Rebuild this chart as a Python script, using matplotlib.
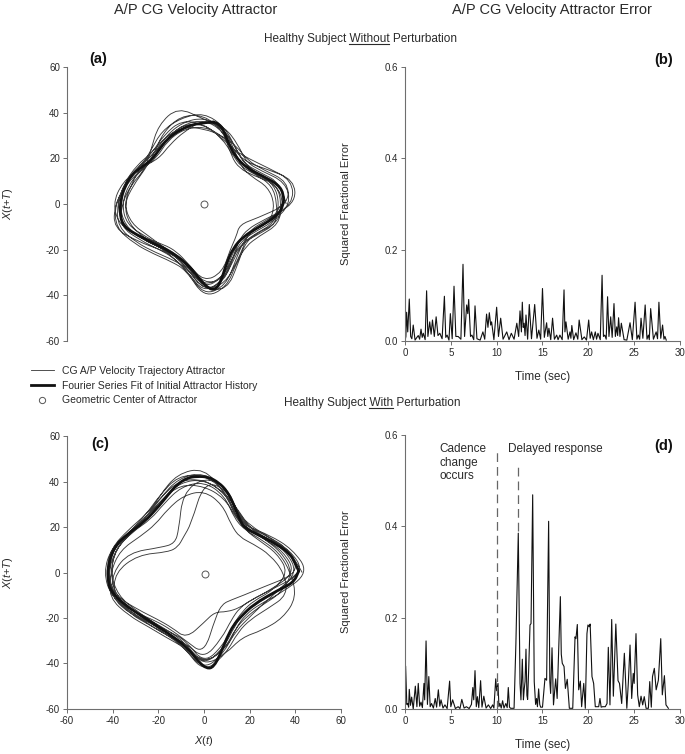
import numpy as np
import matplotlib
matplotlib.use('Agg')
import matplotlib.pyplot as plt
from matplotlib.lines import Line2D
from matplotlib.path import Path
from matplotlib.patches import PathPatch

plt.rcParams['font.family'] = ['Liberation Sans', 'DejaVu Sans']
plt.rcParams['mathtext.fontset'] = 'custom'
plt.rcParams['mathtext.rm'] = 'Liberation Sans'
plt.rcParams['mathtext.it'] = 'Liberation Sans:italic'
plt.rcParams['axes.unicode_minus'] = False

# ==============================================================================
# DATA
# ==============================================================================

# angles (deg) at which the trajectory radii were read
traj_angles = [0, 15, 30, 45, 60, 75, 90, 105, 120, 135, 150, 165,
               180, 195, 210, 225, 240, 255, 270, 285, 300, 315, 330, 345]

# (a) healthy subject without perturbation: radius per cycle
radii_without = [
    [36, 35, 28, 25, 28, 34, 38, 37, 34, 31, 33, 36, 38, 37, 31, 27, 26, 29, 38, 35, 26, 23, 25, 31],
    [38, 37, 29, 26, 30, 35, 37, 44, 40, 33, 30, 33, 36, 38, 32, 28, 27, 30, 39, 34, 27, 24, 27, 33],
    [32, 31, 26, 23, 25, 30, 35, 38, 35, 32, 33, 35, 39, 41, 33, 28, 26, 27, 35, 34, 26, 22, 22, 27],
    [40, 41, 31, 26, 27, 31, 34, 34, 32, 29, 31, 34, 36, 35, 29, 26, 25, 28, 37, 39, 30, 25, 26, 33],
    [35, 33, 25, 22, 24, 33, 39, 40, 36, 31, 30, 32, 35, 34, 30, 27, 27, 30, 40, 37, 28, 24, 24, 30],
    [31, 29, 24, 23, 27, 34, 37, 33, 30, 28, 32, 37, 40, 38, 30, 25, 24, 27, 34, 31, 23, 20, 18, 24],
    [37, 38, 30, 27, 29, 31, 33, 35, 34, 32, 34, 36, 38, 39, 34, 30, 28, 29, 36, 33, 26, 24, 26, 32],
    [33, 32, 27, 25, 28, 35, 40, 39, 37, 33, 32, 33, 35, 33, 28, 26, 26, 29, 38, 36, 29, 25, 23, 28],
    [39, 40, 32, 28, 27, 30, 35, 36, 33, 30, 31, 35, 39, 40, 35, 31, 29, 30, 41, 38, 29, 26, 28, 34],
    [34, 33, 26, 24, 26, 33, 37, 36, 33, 31, 33, 36, 37, 36, 31, 27, 26, 28, 37, 33, 25, 22, 24, 30],
]

# (c) healthy subject with perturbation: radius per cycle
radii_with = [
    [43, 39, 32, 29, 30, 38, 44, 43, 38, 35, 37, 41, 43, 42, 36, 32, 32, 34, 43, 36, 28, 26, 28, 35],
    [46, 40, 33, 28, 28, 36, 46, 45, 39, 35, 36, 40, 41, 40, 35, 32, 31, 33, 41, 37, 33, 36, 40, 42],
    [38, 34, 29, 26, 27, 35, 40, 39, 35, 33, 36, 40, 42, 41, 36, 33, 32, 32, 38, 30, 24, 22, 24, 30],
    [40, 36, 30, 27, 30, 39, 42, 36, 22, 18, 22, 34, 40, 42, 37, 32, 30, 31, 40, 33, 26, 24, 25, 31],
    [37, 33, 28, 26, 28, 34, 38, 40, 37, 35, 37, 42, 44, 42, 35, 30, 29, 31, 36, 20, 16, 17, 20, 26],
    [42, 38, 32, 28, 30, 38, 40, 22, 18, 16, 18, 30, 39, 41, 37, 33, 32, 33, 40, 35, 28, 27, 29, 35],
    [39, 35, 30, 28, 31, 36, 41, 42, 38, 36, 38, 42, 43, 40, 33, 29, 28, 30, 22, 18, 20, 22, 24, 30],
    [44, 39, 31, 27, 28, 37, 43, 44, 39, 36, 37, 40, 41, 39, 34, 31, 31, 34, 44, 37, 30, 29, 32, 38],
    [35, 30, 25, 22, 24, 31, 36, 35, 32, 30, 32, 38, 41, 43, 38, 34, 33, 34, 40, 35, 29, 28, 29, 33],
    [41, 37, 31, 28, 29, 36, 41, 41, 37, 35, 37, 41, 42, 41, 35, 31, 30, 32, 41, 34, 27, 25, 27, 33],
]

# Fourier series fit of initial attractor history
fit_without_x = [4.1, -3.2, -10.5, -16.4, -19.6, -22.9, -27.3, -31.7, -34.6, -36.5, -36.8, -35.0,
                 -30.9, -23.6, -14.9, -7.6, -1.8, 2.6, 5.5, 7.7, 9.9, 12.8, 17.2, 24.5,
                 31.8, 34.7, 35.0, 32.6, 26.0, 18.7, 13.6, 10.7, 8.5, 6.3, 4.1]
fit_without_y = [35.9, 35.5, 32.6, 28.2, 23.8, 19.4, 16.2, 12.8, 7.7, 1.9, -5.4, -9.8,
                 -12.7, -16.4, -20.7, -25.8, -33.1, -37.5, -37.2, -33.1, -25.8, -19.3, -14.2, -9.8,
                 -5.4, -1.0, 4.1, 8.5, 12.1, 15.8, 20.9, 26.7, 32.6, 35.2, 35.9]

fit_with_x = [41.5, 39.5, 37.8, 32.0, 23.2, 18.0, 15.9, 13.0, 10.1, 6.5, 2.0, -3.1,
              -7.4, -11.8, -15.5, -19.1, -26.4, -33.7, -39.6, -42.2, -42.0, -41.0, -35.2, -26.4,
              -16.2, -7.4, -2.3, 1.3, 4.2, 7.2, 10.1, 13.0, 15.9, 21.8, 32.0, 39.3, 41.5]
fit_with_y = [0.7, 5.0, 8.0, 12.4, 16.8, 19.5, 22.6, 29.9, 35.8, 39.5, 42.0, 42.3,
              41.6, 38.7, 34.5, 29.9, 21.9, 16.8, 10.9, 2.2, -3.5, -8.0, -13.9, -19.7,
              -26.3, -32.8, -39.4, -42.3, -41.6, -35.8, -28.5, -23.0, -19.7, -13.9, -8.0, -4.4, 0.7]

center_without = (0.1, 0.0)
center_with = (0.6, -0.7)

# (b) squared fractional error, without perturbation
err_without_t = [0.0, 0.1, 0.18, 0.3, 0.47, 0.62, 0.75, 0.9, 1.1, 1.3,
                 1.45, 1.6, 1.75, 1.88, 2.0, 2.2, 2.36, 2.5, 2.7, 2.85,
                 3.0, 3.2, 3.4, 3.6, 3.8, 4.05, 4.3, 4.45, 4.6, 4.8,
                 4.95, 5.15, 5.35, 5.55, 5.8, 6.1, 6.33, 6.5, 6.73, 6.85,
                 6.95, 7.15, 7.3, 7.5, 7.64, 7.85, 8.2, 8.5, 8.7, 8.9,
                 9.05, 9.2, 9.35, 9.45, 9.7, 10.0, 10.2, 10.44, 10.7, 10.9,
                 11.1, 11.35, 11.6, 11.9, 12.2, 12.4, 12.55, 12.7, 12.8, 12.9,
                 13.0, 13.1, 13.2, 13.38, 13.56, 13.8, 14.15, 14.4, 14.6, 14.8,
                 15.0, 15.2, 15.45, 15.58, 15.7, 15.9, 16.1, 16.3, 16.55, 16.7,
                 16.9, 17.15, 17.35, 17.45, 17.56, 17.8, 18.0, 18.1, 18.2, 18.4,
                 18.65, 18.85, 19.0, 19.3, 19.56, 19.8, 20.04, 20.2, 20.36, 20.55,
                 20.76, 20.9, 21.05, 21.3, 21.5, 21.65, 21.8, 21.95, 22.1, 22.25,
                 22.44, 22.6, 22.8, 22.95, 23.1, 23.2, 23.3, 23.45, 23.6, 23.9,
                 24.2, 24.55, 24.8, 25.1, 25.3, 25.45, 25.6, 25.75, 25.95, 26.2,
                 26.4, 26.55, 26.65, 26.8, 27.1, 27.4, 27.55, 27.7, 27.9, 28.1,
                 28.25, 28.36, 28.5]
err_without = [0.0, 0.01, 0.063, 0.02, 0.092, 0.01, 0.005, 0.035, 0.002, 0.008,
               0.012, 0.004, 0.026, 0.008, 0.017, 0.003, 0.11, 0.01, 0.042, 0.015,
               0.046, 0.01, 0.053, 0.012, 0.017, 0.005, 0.098, 0.008, 0.013, 0.002,
               0.06, 0.005, 0.12, 0.01, 0.01, 0.004, 0.168, 0.01, 0.079, 0.06,
               0.091, 0.01, 0.013, 0.003, 0.077, 0.005, 0.002, 0.02, 0.004, 0.059,
               0.03, 0.062, 0.035, 0.042, 0.003, 0.074, 0.01, 0.05, 0.004, 0.012,
               0.02, 0.003, 0.017, 0.004, 0.039, 0.01, 0.066, 0.02, 0.085, 0.03,
               0.039, 0.012, 0.057, 0.004, 0.08, 0.005, 0.08, 0.006, 0.024, 0.004,
               0.115, 0.008, 0.04, 0.01, 0.028, 0.003, 0.05, 0.004, 0.013, 0.003,
               0.013, 0.003, 0.112, 0.02, 0.042, 0.004, 0.02, 0.006, 0.034, 0.003,
               0.018, 0.004, 0.046, 0.003, 0.009, 0.002, 0.046, 0.006, 0.02, 0.003,
               0.02, 0.004, 0.017, 0.003, 0.144, 0.01, 0.013, 0.004, 0.097, 0.01,
               0.053, 0.008, 0.082, 0.01, 0.031, 0.012, 0.051, 0.01, 0.039, 0.003,
               0.002, 0.04, 0.003, 0.085, 0.004, 0.013, 0.004, 0.05, 0.006, 0.079,
               0.004, 0.013, 0.003, 0.071, 0.004, 0.02, 0.005, 0.085, 0.006, 0.035,
               0.004, 0.01, 0.002]

# (d) squared fractional error, with perturbation
err_with_t = [0.0, 0.07, 0.2, 0.3, 0.4, 0.47, 0.6, 0.73, 0.9, 1.13,
              1.3, 1.45, 1.6, 1.75, 1.9, 2.07, 2.15, 2.3, 2.45, 2.6,
              2.75, 2.9, 3.1, 3.3, 3.45, 3.64, 3.8, 3.93, 4.15, 4.36,
              4.6, 4.87, 5.0, 5.2, 5.5, 5.8, 6.0, 6.2, 6.45, 6.7,
              7.0, 7.25, 7.4, 7.5, 7.64, 7.78, 7.9, 8.05, 8.25, 8.4,
              8.6, 8.85, 9.1, 9.35, 9.56, 9.7, 9.9, 10.0, 10.15, 10.25,
              10.36, 10.5, 10.65, 10.8, 11.0, 11.15, 11.27, 11.4, 11.53, 11.9,
              12.1, 12.36, 12.55, 12.65, 12.8, 12.92, 13.0, 13.1, 13.2, 13.3,
              13.38, 13.5, 13.64, 13.75, 13.93, 14.1, 14.15, 14.25, 14.36, 14.45,
              14.58, 14.7, 14.8, 15.0, 15.27, 15.45, 15.67, 15.8, 15.89, 16.04,
              16.2, 16.44, 16.6, 16.95, 17.05, 17.16, 17.35, 17.5, 17.7, 17.93,
              18.3, 18.55, 18.65, 18.8, 18.95, 19.13, 19.27, 19.5, 19.67, 19.85,
              19.96, 20.1, 20.2, 20.4, 20.58, 20.76, 21.13, 21.27, 21.4, 21.56,
              21.85, 22.04, 22.18, 22.36, 22.55, 22.73, 23.0, 23.24, 23.4, 23.64,
              23.93, 24.2, 24.36, 24.55, 24.73, 24.9, 25.0, 25.2, 25.38, 25.56,
              25.75, 25.93, 26.1, 26.3, 26.55, 26.7, 26.87, 27.0, 27.2, 27.4,
              27.64, 27.9, 28.07, 28.3, 28.47, 28.73]
err_with = [0.0, 0.094, 0.01, 0.012, 0.004, 0.043, 0.008, 0.026, 0.0, 0.05,
            0.005, 0.056, 0.006, 0.015, 0.003, 0.056, 0.02, 0.149, 0.01, 0.071,
            0.005, 0.012, 0.002, 0.023, 0.004, 0.042, 0.006, 0.02, 0.002, 0.009,
            0.001, 0.061, 0.005, 0.02, 0.001, 0.005, 0.001, 0.021, 0.002, 0.005,
            0.001, 0.01, 0.047, 0.02, 0.084, 0.005, 0.027, 0.003, 0.062, 0.004,
            0.028, 0.002, 0.009, 0.001, 0.009, 0.002, 0.066, 0.04, 0.056, 0.005,
            0.012, 0.002, 0.018, 0.002, 0.012, 0.003, 0.047, 0.004, 0.0015, 0.0015,
            0.144, 0.385, 0.056, 0.02, 0.109, 0.02, 0.042, 0.06, 0.131, 0.03,
            0.021, 0.09, 0.184, 0.187, 0.469, 0.06, 0.042, 0.01, 0.023, 0.005,
            0.044, 0.01, 0.004, 0.004, 0.067, 0.063, 0.411, 0.06, 0.034, 0.134,
            0.009, 0.066, 0.023, 0.246, 0.12, 0.1, 0.093, 0.045, 0.065, 0.0015,
            0.0015, 0.158, 0.154, 0.185, 0.042, 0.061, 0.005, 0.056, 0.0015, 0.165,
            0.184, 0.18, 0.186, 0.071, 0.056, 0.005, 0.005, 0.023, 0.004, 0.005,
            0.005, 0.012, 0.135, 0.009, 0.196, 0.028, 0.186, 0.062, 0.056, 0.012,
            0.122, 0.0015, 0.056, 0.14, 0.023, 0.078, 0.056, 0.165, 0.031, 0.005,
            0.028, 0.009, 0.027, 0.0015, 0.0015, 0.06, 0.004, 0.071, 0.089, 0.042,
            0.063, 0.154, 0.031, 0.073, 0.009, 0.0015]

cadence_change_t = 10.0
delayed_response_t = 12.3

# ==============================================================================
# HELPERS
# ==============================================================================

AX_COLOR = '#6e6e6e'
TXT_COLOR = '#2a2a2a'


def cycles_to_xy(radii_cycles, angles_deg):
    '''
    joins the cycles read at fixed angles into one continuous trajectory
    '''
    theta = np.deg2rad(np.array(angles_deg, dtype=float))
    xs, ys = [], []
    for r in radii_cycles:
        r = np.asarray(r, dtype=float)
        xs.append(r * np.cos(theta))
        ys.append(r * np.sin(theta))
    # close the last cycle
    xs.append([radii_cycles[-1][0]])
    ys.append([0.0])
    return np.concatenate(xs), np.concatenate(ys)


def smooth_path(x, y):
    '''
    quadratic bezier path through the read points (rounded corners)
    '''
    pts = np.column_stack([x, y])
    verts = [pts[0]]
    codes = [Path.MOVETO]
    for i in range(1, len(pts) - 1):
        verts += [pts[i], (pts[i] + pts[i + 1]) / 2]
        codes += [Path.CURVE3, Path.CURVE3]
    verts.append(pts[-1])
    codes.append(Path.LINETO)
    return Path(verts, codes)


def style_axis(ax, show_x=True):
    for side in ['top', 'right']:
        ax.spines[side].set_visible(False)
    for side in ['left', 'bottom']:
        ax.spines[side].set_color(AX_COLOR)
        ax.spines[side].set_linewidth(0.8)
    ax.tick_params(direction='out', length=3, width=0.7, color=AX_COLOR,
                   labelsize=7, labelcolor=TXT_COLOR, pad=2)
    if not show_x:
        ax.spines['bottom'].set_visible(False)
        ax.tick_params(bottom=False, labelbottom=False)


def plot_attractor(ax, radii_cycles, fit_x, fit_y, center, show_x):
    x, y = cycles_to_xy(radii_cycles, traj_angles)
    ax.add_patch(PathPatch(smooth_path(x, y), fill=False, edgecolor='#3a3a3a', linewidth=0.65))
    ax.add_patch(PathPatch(smooth_path(fit_x, fit_y), fill=False, edgecolor='#111111',
                           linewidth=2.0, capstyle='round', joinstyle='round'))
    ax.plot(*center, marker='o', markersize=5, mfc='white', mec='#555555', mew=0.7)
    ax.set_xlim(-60, 60)
    ax.set_ylim(-60, 60)
    ax.set_xticks(np.arange(-60, 61, 20))
    ax.set_yticks(np.arange(-60, 61, 20))
    style_axis(ax, show_x)
    ax.set_ylabel(r'$X$($t$+$T$)', fontsize=8, color=TXT_COLOR)
    ax.yaxis.set_label_coords(-0.19, 0.5)
    if show_x:
        ax.set_xlabel(r'$X$($t$)', fontsize=8, color=TXT_COLOR)
        ax.xaxis.set_label_coords(0.5, -0.092)


def plot_error(ax, t, err):
    ax.plot(t, err, color='#111111', linewidth=0.8)
    ax.set_xlim(0, 30)
    ax.set_ylim(0, 0.6)
    ax.set_xticks(np.arange(0, 31, 5))
    ax.set_yticks([0.0, 0.2, 0.4, 0.6])
    ax.set_yticklabels(['0.0', '0.2', '0.4', '0.6'])
    style_axis(ax)
    ax.set_ylabel('Squared Fractional Error', fontsize=8, color=TXT_COLOR)
    ax.yaxis.set_label_coords(-0.198, 0.5)
    ax.set_xlabel('Time (sec)', fontsize=8.5, color=TXT_COLOR)
    ax.xaxis.set_label_coords(0.5, -0.108)


def underlined_title(fig, x, y, before, word, after, size):
    '''
    figure text with one underlined word (mathtext has no \\underline)
    '''
    full = fig.text(x, y, before + word + after, fontsize=size, ha='center',
                    va='center', color=TXT_COLOR)
    renderer = fig.canvas.get_renderer()
    bb = full.get_window_extent(renderer)
    probe = fig.text(0, 0, before, fontsize=size)
    w_before = probe.get_window_extent(renderer).width
    probe.set_text(before + word)
    w_word = probe.get_window_extent(renderer).width
    probe.remove()
    W, H = fig.bbox.width, fig.bbox.height
    x0 = (bb.x0 + w_before) / W
    x1 = (bb.x0 + w_word) / W
    yl = (bb.y0 + 1) / H
    fig.add_artist(Line2D([x0, x1], [yl, yl], transform=fig.transFigure,
                          color=TXT_COLOR, linewidth=0.8))

# ==============================================================================
# FIGURE
# ==============================================================================

fig = plt.figure(figsize=(6.85, 7.54), dpi=100)

ax_a = fig.add_axes([0.0978, 0.5477, 0.4, 0.3634])
ax_b = fig.add_axes([0.5912, 0.5477, 0.4015, 0.3634])
ax_c = fig.add_axes([0.0978, 0.0597, 0.4, 0.3620])
ax_d = fig.add_axes([0.5912, 0.0597, 0.4015, 0.3634])

plot_attractor(ax_a, radii_without, fit_without_x, fit_without_y, center_without, show_x=False)
plot_attractor(ax_c, radii_with, fit_with_x, fit_with_y, center_with, show_x=True)
plot_error(ax_b, err_without_t, err_without)
plot_error(ax_d, err_with_t, err_with)

# event markers in (d)
ax_d.plot([cadence_change_t, cadence_change_t], [0, 0.567], color='#666666',
          linewidth=0.9, linestyle=(0, (7, 4)))
ax_d.plot([delayed_response_t, delayed_response_t], [0.39, 0.539], color='#666666',
          linewidth=0.9, linestyle=(0, (7, 4)))
ax_d.text(3.8, 0.539, 'Cadence\nchange\noccurs', fontsize=8.5, color=TXT_COLOR,
          va='center', ha='left', linespacing=1.15)
ax_d.text(11.2, 0.569, 'Delayed response', fontsize=8.5, color=TXT_COLOR,
          va='center', ha='left')

# column titles, row titles, panel letters
fig.text(196 / 685, 1 - 10 / 754, 'A/P CG Velocity Attractor', fontsize=10.5,
         ha='center', va='center', color=TXT_COLOR)
fig.text(552 / 685, 1 - 10 / 754, 'A/P CG Velocity Attractor Error', fontsize=10.5,
         ha='center', va='center', color=TXT_COLOR)
underlined_title(fig, 360 / 685, 1 - 39 / 754, 'Healthy Subject ', 'Without', ' Perturbation', 8.5)
underlined_title(fig, 372 / 685, 1 - 403 / 754, 'Healthy Subject ', 'With', ' Perturbation', 8.5)
for letter, (px, py) in {'(a)': (98, 59), '(b)': (664, 60),
                         '(c)': (100, 444), '(d)': (664, 446)}.items():
    fig.text(px / 685, 1 - py / 754, letter, fontsize=10.5, fontweight='bold',
             ha='center', va='center', color='#111111')

# legend between the two rows
handles = [Line2D([], [], color='#333333', linewidth=0.6),
           Line2D([], [], color='#111111', linewidth=2.0),
           Line2D([], [], linestyle='none', marker='o', markersize=4.5,
                  mfc='white', mec='#555555', mew=0.7)]
labels = ['CG A/P Velocity Trajectory Attractor',
          'Fourier Series Fit of Initial Attractor History',
          'Geometric Center of Attractor']
fig.legend(handles, labels, loc='upper left', bbox_to_anchor=(31 / 685, 1 - 366 / 754),
           frameon=False, fontsize=7.5, labelspacing=0.45, handlelength=2.2,
           handletextpad=0.8, borderpad=0, borderaxespad=0, labelcolor=TXT_COLOR)

fig.savefig('out.png', dpi=100)
